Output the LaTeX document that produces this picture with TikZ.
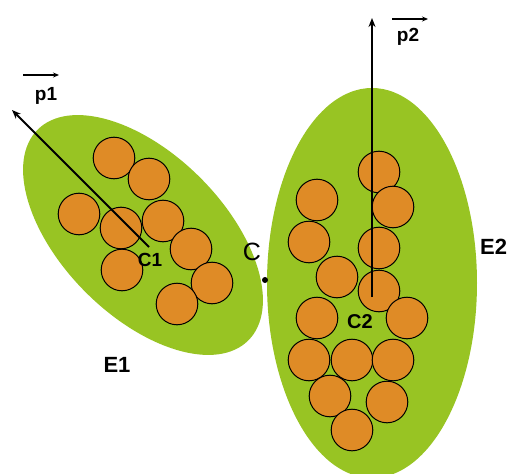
\documentclass[tikz,border=0pt]{standalone}
\usepackage{fontspec}
\setmainfont{Liberation Sans}
\usetikzlibrary{arrows.meta}
\definecolor{leafgreen}{RGB}{152,196,35}
\definecolor{ballorange}{RGB}{223,139,38}
\tikzset{
  ball/.style={circle, draw=black, line width=1pt, fill=ballorange, minimum size=41.6pt, inner sep=0pt},
  axisarrow/.style={line width=2pt, -{Stealth[length=9pt,width=7pt]}},
  vecarrow/.style={line width=1.4pt, -{Stealth[length=6pt,width=5pt]}},
  lbl/.style={inner sep=0pt, font=\bfseries\fontsize{#1}{#1}\selectfont},
}
\begin{document}
\begin{tikzpicture}[x=1pt, y=-1pt]
\useasboundingbox (0,0) rectangle (507,474);

% the two ellipses
\fill[leafgreen, rotate around={-45:(143,235)}] (143,235) ellipse [x radius=149, y radius=81];
\fill[leafgreen] (372,283) ellipse [x radius=105, y radius=195];

% balls in E1
\node[ball] (a1) at (114,158) {};
\node[ball] (a2) at (149,179) {};
\node[ball] (a3) at (79,214) {};
\node[ball] (a4) at (121,228) {};
\node[ball] (a5) at (163,221) {};
\node[ball] (a6) at (191,249) {};
\node[ball] (a7) at (122,270) {};
\node[ball] (a8) at (212,283) {};
\node[ball] (a9) at (177,304) {};

% balls in E2
\node[ball] (b1) at (379,172) {};
\node[ball] (b2) at (393,207) {};
\node[ball] (b3) at (317,200) {};
\node[ball] (b4) at (309,242) {};
\node[ball] (b5) at (379,248) {};
\node[ball] (b6) at (337,277) {};
\node[ball] (b7) at (379,291) {};
\node[ball] (b8) at (317,318) {};
\node[ball] (b9) at (407,318) {};
\node[ball] (b10) at (309,360) {};
\node[ball] (b11) at (352,360) {};
\node[ball] (b12) at (393,360) {};
\node[ball] (b13) at (330,396) {};
\node[ball] (b14) at (387,402) {};
\node[ball] (b15) at (352,430) {};

% centres and axes
\coordinate (c1) at (149,247);
\coordinate (p1tip) at (12,110);
\coordinate (c2) at (372,297);
\coordinate (p2tip) at (372,18);
\draw[axisarrow] (c1) -- (p1tip);
\draw[axisarrow] (c2) -- (p2tip);

\node[lbl=19] (c1lbl) at (150,260) {C1};
\node[lbl=20] (c2lbl) at (360,322) {C2};
\node[lbl=22] (e1lbl) at (117,365) {E1};
\node[lbl=22, anchor=west] (e2lbl) at (480,247) {E2};

% vector labels
\node[lbl=19] (p1lbl) at (46,96) {p1};
\draw[vecarrow] ([xshift=-23pt,yshift=21pt]p1lbl.center) -- ([xshift=13pt,yshift=21pt]p1lbl.center);
\node[lbl=19] (p2lbl) at (408,37) {p2};
\draw[vecarrow] ([xshift=-16pt,yshift=18pt]p2lbl.center) -- ([xshift=20pt,yshift=18pt]p2lbl.center);

% contact point
\node[circle, fill=black, minimum size=6pt, inner sep=0pt] (c) at (265,280) {};
\node[inner sep=0pt, font=\fontsize{25}{25}\selectfont] (clbl) at (252,252) {C};
\end{tikzpicture}
\end{document}
